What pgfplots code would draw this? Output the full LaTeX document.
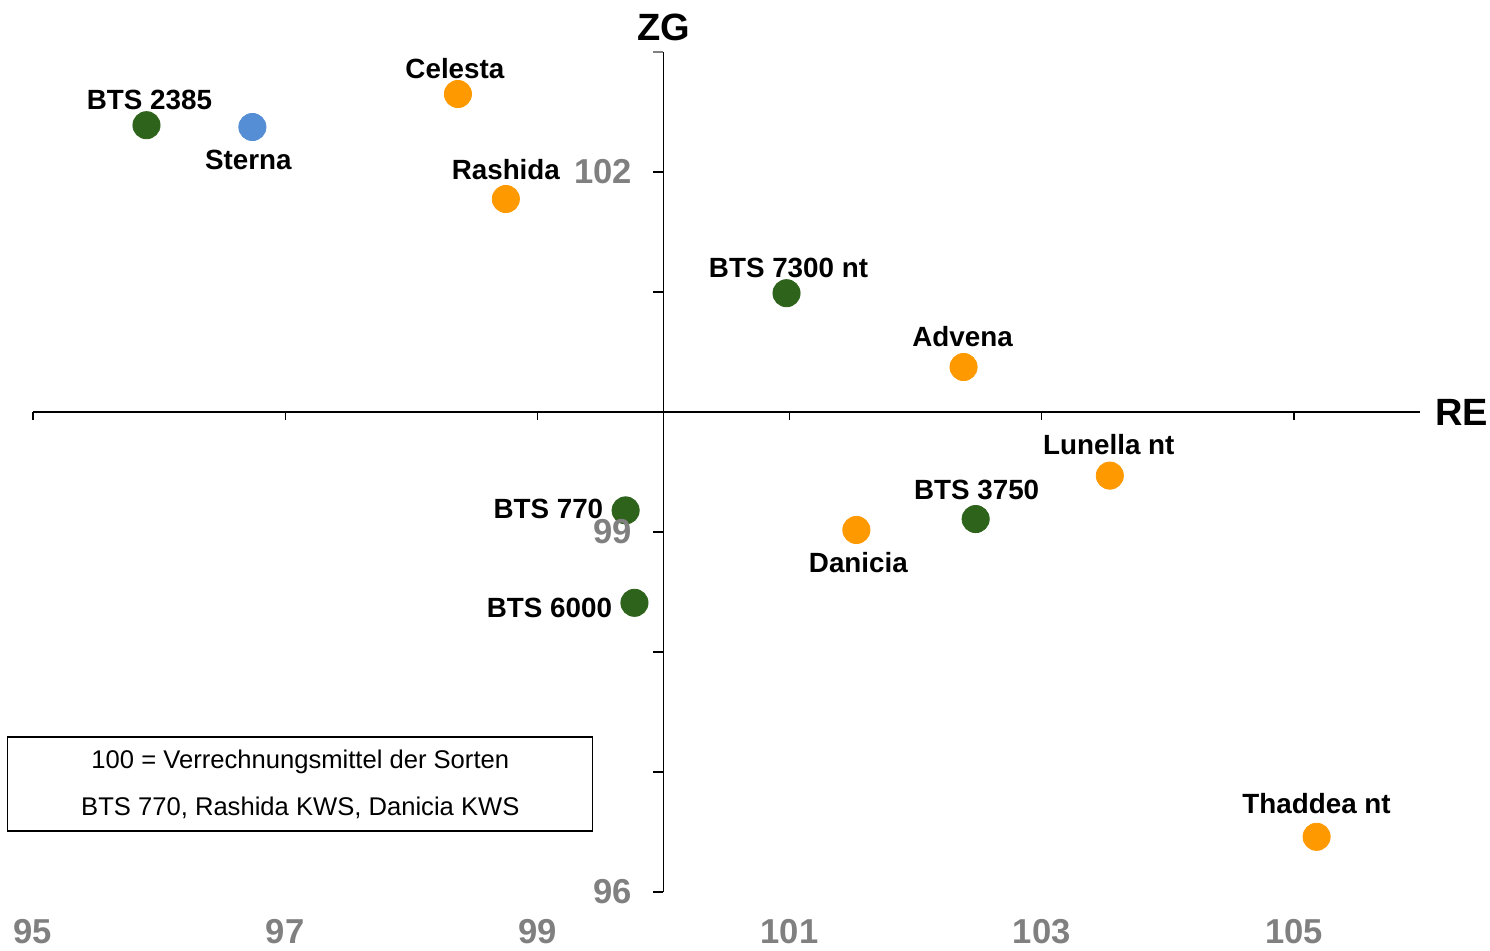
\documentclass[border=0pt]{standalone}
\usepackage{pgfplots}
\pgfplotsset{compat=1.18}
\usepackage{fontspec}
\setmainfont{Liberation Sans}
\definecolor{cg}{RGB}{45,99,27}
\definecolor{cb}{RGB}{85,142,213}
\definecolor{co}{RGB}{255,153,0}
\definecolor{tg}{RGB}{128,128,128}
\pgfplotsset{
  pt/.style n args={4}{only marks, mark=*, mark size=6.8pt,
    mark options={draw=#1, fill=#1}, color=#1,
    point meta=explicit symbolic, nodes near coords,
    nodes near coords style={font=\bfseries\fontsize{13.9}{16}\selectfont,
      inner sep=0pt, text=black, anchor=#2, xshift=#3, yshift=#4}},
}
\begin{document}
\begin{tikzpicture}
\useasboundingbox (-16.5pt,-29pt) rectangle (728.5pt,446pt);
\begin{axis}[
  scale only axis, width=693.5pt, height=420pt,
  xmin=95, xmax=106, ymin=96, ymax=103,
  axis lines=none, clip=false,
]
\addplot[pt={cg}{center}{1.5pt}{12.5pt}] coordinates {(95.90,102.39) [BTS 2385]};
\addplot[pt={cb}{center}{-2pt}{-16.5pt}] coordinates {(96.74,102.375) [Sterna]};
\addplot[pt={co}{center}{-1.5pt}{12.5pt}] coordinates {(98.37,102.65) [Celesta]};
\addplot[pt={co}{center}{0pt}{14.5pt}] coordinates {(98.75,101.775) [Rashida]};
\addplot[pt={cg}{center}{1pt}{12.5pt}] coordinates {(100.976,100.99) [BTS 7300 nt]};
\addplot[pt={co}{center}{-0.5pt}{15pt}] coordinates {(102.38,100.375) [Advena]};
\addplot[pt={co}{center}{-0.5pt}{15.5pt}] coordinates {(103.54,99.47) [Lunella nt]};
\addplot[pt={cg}{center}{0.5pt}{14.5pt}] coordinates {(102.476,99.108) [BTS 3750]};
\addplot[pt={co}{center}{1pt}{-16.5pt}] coordinates {(101.53,99.017) [Danicia]};
\addplot[pt={cg}{east}{-11pt}{0.5pt}] coordinates {(99.70,99.18) [BTS 770]};
\addplot[pt={cg}{east}{-11pt}{-2.5pt}] coordinates {(99.77,98.41) [BTS 6000]};
\addplot[pt={co}{center}{0pt}{16.5pt}] coordinates {(105.18,96.46) [Thaddea nt]};
% axis lines
\draw[line width=0.75pt] (axis cs:95,100) -- (axis cs:106,100);
\draw[line width=0.75pt] (axis cs:100,96) -- (axis cs:100,103);
\pgfplotsinvokeforeach{95,97,99,101,103,105}{\draw[line width=0.6pt] (axis cs:#1,100) -- ++(0pt,-4pt);}
\pgfplotsinvokeforeach{96,97,98,99,100,101,102}{\draw[line width=0.6pt] (axis cs:100,#1) -- ++(-5pt,0pt);}
\draw[line width=0.6pt, tg] (axis cs:100,103) -- ++(-5pt,0pt);
\coordinate (y96) at (axis cs:100,96);
\coordinate (y99) at (axis cs:100,99);
\coordinate (y102) at (axis cs:100,102);
% tick labels
\pgfplotsinvokeforeach{95,97,99,101,103,105}{\node[font=\bfseries\fontsize{17.3}{20}\selectfont, text=tg, inner sep=0pt] at (axis cs:#1,96) [yshift=-20pt] {#1};}
% axis titles
\node[font=\bfseries\fontsize{19}{22}\selectfont, inner sep=0pt] at (axis cs:100,103) [yshift=12.5pt] {ZG};
\node[font=\bfseries\fontsize{19}{22}\selectfont, inner sep=0pt, anchor=west] at (axis cs:106,100) [xshift=7.5pt] {RE};
% note box
\draw[line width=0.7pt] (axis cs:94.80,97.292) rectangle (axis cs:99.437,96.508);
\node[align=center, font=\fontsize{12.8}{23.5}\selectfont, inner sep=0pt] at (axis cs:97.12,96.9) {100 = Verrechnungsmittel der Sorten\\BTS 770, Rashida KWS, Danicia KWS};
\end{axis}
\foreach \v in {96,99,102}{\node[font=\bfseries\fontsize{17.3}{20}\selectfont, text=tg, inner sep=0pt, anchor=east] at ([xshift=-15.5pt]y\v) {\v};}
\end{tikzpicture}
\end{document}
